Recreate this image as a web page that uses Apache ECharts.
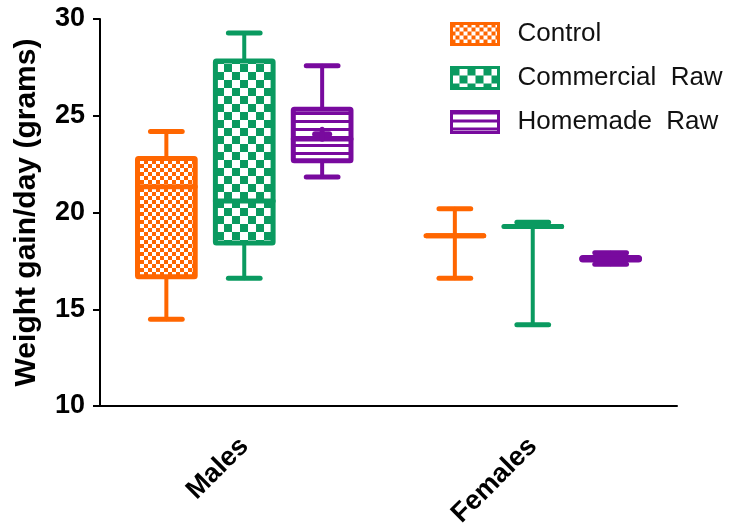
<!DOCTYPE html>
<html>
<head>
<meta charset="utf-8">
<script src="https://cdn.jsdelivr.net/npm/echarts@6/dist/echarts.min.js"></script>
<style>
  html, body { margin: 0; padding: 0; background: #fff; }
  #chart { width: 729px; height: 529px; }
</style>
</head>
<body>
<div id="chart"></div>
<script>
// Groups on the x axis
const categories = ['Males', 'Females'];
const seriesNames = ['Control', 'Commercial Raw', 'Homemade Raw'];

// Box statistics per group: [min, q1, median, q3, max]
const controlStats    = [[14.48, 16.68, 21.33, 22.79, 24.18], [16.6, 18.8, 18.8, 18.8, 20.2]];
const commercialStats = [[16.6, 18.43, 20.6, 27.83, 29.28], [14.2, 19.28, 19.28, 19.28, 19.5]];
const homemadeStats   = [[21.83, 22.68, 23.8, 25.33, 27.58], [17.33, 17.55, 17.61, 17.68, 17.92]];
// Mean marker (+), only shown where it is visible
const homemadeMeans   = [24.05, null];

// y-axis ticks
const yTicks = [10, 15, 20, 25, 30];

const FONT = "'Liberation Sans', Arial, Helvetica, sans-serif";
const colors = ['#FF6600', '#0A9A60', '#780A9E'];

function checker(color, cell) {
  const c = document.createElement('canvas');
  c.width = c.height = cell * 2;
  const g = c.getContext('2d');
  g.fillStyle = '#ffffff';
  g.fillRect(0, 0, cell * 2, cell * 2);
  g.fillStyle = color;
  g.fillRect(0, 0, cell, cell);
  g.fillRect(cell, cell, cell, cell);
  return { image: c, repeat: 'repeat' };
}
function stripes(color, period, band) {
  const c = document.createElement('canvas');
  c.width = 4; c.height = period;
  const g = c.getContext('2d');
  g.fillStyle = color;
  g.fillRect(0, 0, 4, period);
  g.fillStyle = '#ffffff';
  g.fillRect(0, period - band, 4, band);
  return { image: c, repeat: 'repeat' };
}

const patterns = [checker(colors[0], 4), checker(colors[1], 8), stripes(colors[2], 8, 5)];
const offsets = [-0.27, 0, 0.27];   // position within the category band
const boxFrac = 0.2;                // box width as fraction of band
const capFrac = 0.11;               // whisker cap width as fraction of band

function buildData(stats, means) {
  return stats.map((s, i) => [i, s[0], s[1], s[2], s[3], s[4], means ? means[i] : null]);
}

function makeRender(k) {
  return function (params, api) {
    const cat = api.value(0);
    const band = api.size([1, 0])[0];
    const xc = api.coord([cat, 0])[0] + offsets[k] * band;
    const bw = boxFrac * band, cw = capFrac * band;
    const Y = v => api.coord([cat, v])[1];
    const yMin = Y(api.value(1)), yQ1 = Y(api.value(2)), yMed = Y(api.value(3)),
          yQ3 = Y(api.value(4)), yMax = Y(api.value(5));
    const col = colors[k];
    const lineStyle = w => ({ stroke: col, lineWidth: w, lineCap: 'round', fill: null });
    const children = [
      { type: 'line', shape: { x1: xc, y1: yQ3, x2: xc, y2: yMax }, style: lineStyle(4) },
      { type: 'line', shape: { x1: xc, y1: yQ1, x2: xc, y2: yMin }, style: lineStyle(4) },
      { type: 'line', shape: { x1: xc - cw / 2, y1: yMax, x2: xc + cw / 2, y2: yMax }, style: lineStyle(5) },
      { type: 'line', shape: { x1: xc - cw / 2, y1: yMin, x2: xc + cw / 2, y2: yMin }, style: lineStyle(5) },
      { type: 'rect', shape: { x: xc - bw / 2, y: yQ3, width: bw, height: Math.max(yQ1 - yQ3, 0), r: 1 },
        style: { fill: yQ1 - yQ3 > 1 ? patterns[k] : col, stroke: col, lineWidth: 5, lineJoin: 'round' } },
      { type: 'line', shape: { x1: xc - bw / 2, y1: yMed, x2: xc + bw / 2, y2: yMed }, style: lineStyle(5) }
    ];
    const mean = api.value(6);
    if (mean != null && !isNaN(mean)) {
      const ym = Y(mean);
      children.push({ type: 'line', shape: { x1: xc - 7, y1: ym, x2: xc + 7, y2: ym }, style: lineStyle(6) });
      children.push({ type: 'line', shape: { x1: xc, y1: ym - 5, x2: xc, y2: ym + 5 }, style: lineStyle(5) });
    }
    return { type: 'group', children };
  };
}

const allStats = [controlStats, commercialStats, homemadeStats];
const allMeans = [null, null, homemadeMeans];

const chart = echarts.init(document.getElementById('chart'), null, { renderer: 'canvas' });
chart.setOption({
  animation: false,
  backgroundColor: '#ffffff',
  grid: { left: 100, right: 52, top: 19, bottom: 123, containLabel: false, outerBoundsMode: 'none' },
  legend: {
    orient: 'vertical',
    left: 450,
    top: 21,
    padding: 0,
    itemWidth: 47,
    itemHeight: 21,
    itemGap: 18,
    selectedMode: false,
    formatter: n => n.replace(' ', '  '),
    textStyle: { fontFamily: FONT, fontSize: 26, color: '#111', padding: [0, 0, 0, 14] },
    data: seriesNames.map((n, k) => ({
      name: n,
      icon: 'rect',
      itemStyle: { color: patterns[k], borderColor: colors[k], borderWidth: 3 }
    }))
  },
  xAxis: {
    type: 'category',
    data: categories,
    boundaryGap: true,
    axisLine: { lineStyle: { color: '#000', width: 2 } },
    axisTick: { alignWithLabel: true, length: 7, lineStyle: { color: '#000', width: 2 } },
    axisLabel: { rotate: 45, margin: 36, fontFamily: FONT, fontWeight: 'bold', fontSize: 27, color: '#000' },
    splitLine: { show: false }
  },
  yAxis: {
    type: 'value',
    min: yTicks[0],
    max: yTicks[yTicks.length - 1],
    interval: yTicks[1] - yTicks[0],
    name: 'Weight gain/day (grams)',
    nameLocation: 'middle',
    nameGap: 58,
    nameTextStyle: { fontFamily: FONT, fontWeight: 'bold', fontSize: 30, color: '#000' },
    axisLine: { show: true, lineStyle: { color: '#000', width: 2 } },
    axisTick: { show: true, length: 7, lineStyle: { color: '#000', width: 2 } },
    axisLabel: { margin: 15, fontFamily: FONT, fontWeight: 'bold', fontSize: 27, color: '#000' },
    splitLine: { show: false }
  },
  series: seriesNames.map((n, k) => ({
    name: n,
    type: 'custom',
    renderItem: makeRender(k),
    itemStyle: { color: colors[k] },
    encode: { x: 0, y: [1, 2, 3, 4, 5] },
    data: buildData(allStats[k], allMeans[k])
  }))
});
</script>
</body>
</html>
